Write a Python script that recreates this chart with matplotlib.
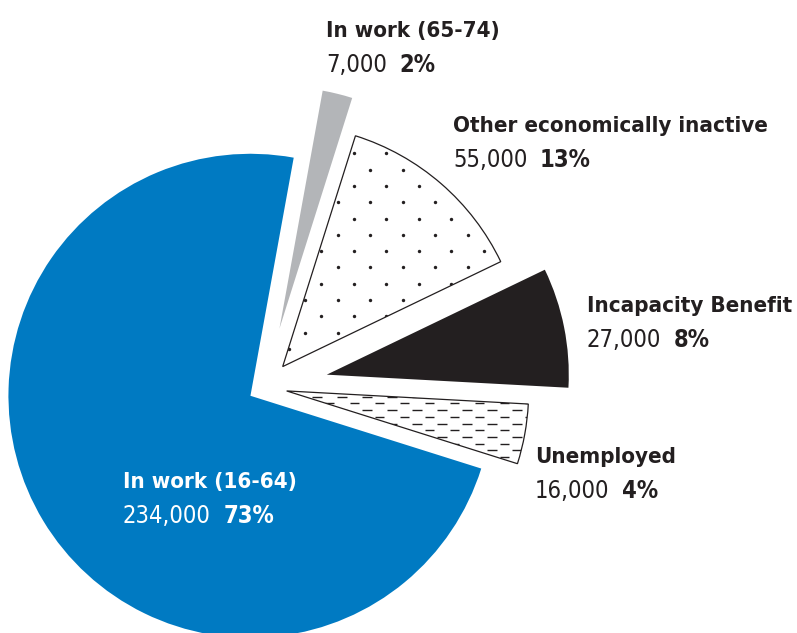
import numpy as np
import matplotlib
matplotlib.use("Agg")
import matplotlib.pyplot as plt
from matplotlib.collections import LineCollection

# datos del grafico (orden antihorario desde startangle)
labels = ["Unemployed", "Incapacity Benefit", "Other economically inactive",
          "In work (65-74)", "In work (16-64)"]
counts = ["16,000", "27,000", "55,000", "7,000", "234,000"]
percents = [4, 8, 13, 2, 73]

colors = ["white", "#231f20", "white", "#b3b5b8", "#007ac2"]
explode = [22, 63, 27, 60, 17]          # en pixeles (radio = 242)
text_pos = [(535, 463), (587, 312), (453, 132), (326, 37), (123, 488)]  # x, baseline (pix. imagen)
text_col = ["#231f20", "#231f20", "#231f20", "#231f20", "white"]

W, H = 797, 633
DARK = "#231f20"
FONT = ["DejaVu Sans"]

fig = plt.figure(figsize=(W / 100, H / 100), dpi=100)
ax = fig.add_axes([0, 0, 1, 1])

wedges, _ = ax.pie(percents, colors=colors, explode=explode, startangle=-17.5,
                   counterclock=True, center=(265, H - 387), radius=242,
                   wedgeprops=dict(linewidth=0))
ax.set_xlim(0, W)
ax.set_ylim(0, H)
ax.set_aspect("equal")
ax.axis("off")

# contorno fino para las cunas blancas
for i in (0, 2):
    wedges[i].set_edgecolor(DARK)
    wedges[i].set_linewidth(0.9)

# textura de puntos (Other economically inactive)
px, py = [], []
for k in range(-20, 60):
    y_img = 153.3 + k * 16.3
    off = 16.25 if k % 2 else 0.0
    xs = np.arange(354 - 32.5 * 15, W + 40, 32.5) + off
    px.extend(xs)
    py.extend([H - y_img] * len(xs))
dots = ax.scatter(px, py, s=6, color=DARK, linewidths=0, zorder=3)
dots.set_clip_path(wedges[2])

# textura de guiones (Unemployed)
segs = []
for k in range(-80, 120):
    y = H - (390 + k * 6.7)
    off = 12.5 if k % 2 else 0.0
    for x0 in np.arange(200, 620, 25) + off:
        segs.append([(x0, y), (x0 + 9.5, y)])
dashes = LineCollection(segs, colors=DARK, linewidths=1.0, zorder=3)
ax.add_collection(dashes)
dashes.set_clip_path(wedges[0])

# etiquetas
for lab, cnt, pct, (x, yb), col in zip(labels, counts, percents, text_pos, text_col):
    ax.text(x, H - yb, lab, family=FONT, fontweight="bold", fontstretch="condensed",
            fontsize=16, color=col, va="baseline", ha="left", zorder=5)
    t = ax.text(x, H - yb - 35, cnt, family=FONT, fontstretch="condensed",
                fontsize=17, color=col, va="baseline", ha="left", zorder=5)
    ax.annotate(f"{pct}%", xy=(1, 0), xycoords=t, xytext=(9, 0),
                textcoords="offset points", family=FONT, fontweight="bold",
                fontstretch="condensed", fontsize=17, color=col,
                va="bottom", ha="left", zorder=5)

fig.savefig("out.png", dpi=100)
